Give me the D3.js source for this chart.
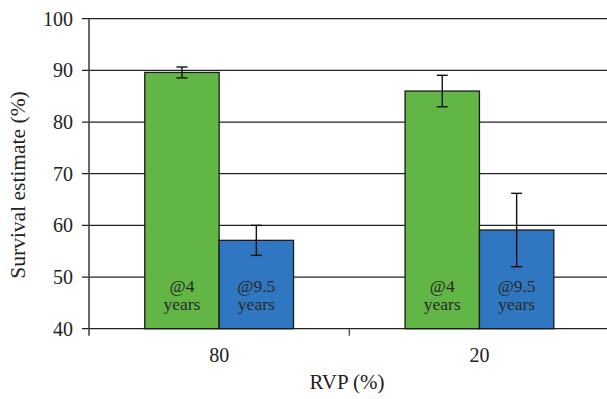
<!DOCTYPE html>
<html><head><meta charset="utf-8">
<script src="https://cdn.jsdelivr.net/npm/d3@7"></script>
<style>body{margin:0;background:#fff}svg{display:block}</style>
</head><body>
<script>
const categories = ["80", "20"];
const series = ["@4 years", "@9.5 years"];
const seriesLabels = [["@4", "years"], ["@9.5", "years"]];
const values4 = [89.6, 86.0];
const err4 = [1.05, 3.05];
const values95 = [57.1, 59.1];
const err95 = [2.9, 7.1];
const yTicks = [40, 50, 60, 70, 80, 90, 100];
const colors = ["#62b645", "#2f77c0"];

const W = 607, H = 399;
const m = {left: 89, right: -2.6, top: 18.7, bottom: 70};
const svg = d3.select("body").append("svg").attr("width", W).attr("height", H);
const font = "Liberation Serif";

const x0 = d3.scaleBand().domain(categories).range([m.left, W - m.right]).paddingInner(0).paddingOuter(0);
const x1 = d3.scaleBand().domain(series).range([0, x0.bandwidth()]).paddingInner(0).paddingOuter(0.75);
const y = d3.scaleLinear().domain([40, 100]).range([H - m.bottom - 0.3, m.top]);

svg.append("g").selectAll("line").data(yTicks).join("line")
  .attr("x1", m.left - 7).attr("x2", W).attr("y1", d => y(d)).attr("y2", d => y(d))
  .attr("stroke", "#222").attr("stroke-width", 1.2);

svg.append("g").selectAll("text").data(yTicks).join("text")
  .attr("x", 73).attr("y", d => y(d)).attr("dy", "0.35em")
  .attr("text-anchor", "end").style("font-family", font).attr("font-size", 20).attr("fill", "#222")
  .text(d => d);

const data = categories.map((c, i) => [
  {cat: c, s: series[0], v: values4[i], e: err4[i], lab: seriesLabels[0], col: colors[0]},
  {cat: c, s: series[1], v: values95[i], e: err95[i], lab: seriesLabels[1], col: colors[1]}
]).flat();

const g = svg.append("g");
g.selectAll("rect").data(data).join("rect")
  .attr("x", d => x0(d.cat) + x1(d.s)).attr("width", x1.bandwidth())
  .attr("y", d => y(d.v)).attr("height", d => y(40) - y(d.v))
  .attr("fill", d => d.col).attr("stroke", "#1a1a1a").attr("stroke-width", 1.3);

data.forEach(d => {
  const cx = x0(d.cat) + x1(d.s) + x1.bandwidth() / 2;
  [0, 1].forEach(k => g.append("text").attr("text-anchor", "middle").style("font-family", font)
    .attr("font-size", 17.5).attr("fill", "#2a2a2a").attr("x", cx).attr("y", 291.5 + 18.5 * k).text(d.lab[k]));
});

const eb = svg.append("g").attr("stroke", "#111").attr("stroke-width", 1.4);
data.forEach(d => {
  const cx = x0(d.cat) + x1(d.s) + x1.bandwidth() / 2;
  eb.append("line").attr("x1", cx).attr("x2", cx).attr("y1", y(d.v + d.e)).attr("y2", y(d.v - d.e));
  [d.v + d.e, d.v - d.e].forEach(v => eb.append("line").attr("x1", cx - 5.5).attr("x2", cx + 5.5).attr("y1", y(v)).attr("y2", y(v)));
});

svg.append("line").attr("x1", m.left).attr("x2", m.left).attr("y1", m.top).attr("y2", y(40) + 7)
  .attr("stroke", "#444").attr("stroke-width", 1.6);

const bounds = categories.map(c => x0(c)).slice(1);
svg.append("g").selectAll("line").data(bounds).join("line")
  .attr("x1", d => d).attr("x2", d => d).attr("y1", y(40)).attr("y2", y(40) + 7)
  .attr("stroke", "#444").attr("stroke-width", 1.3);

svg.append("g").selectAll("text").data(categories).join("text")
  .attr("x", c => x0(c) + x0.bandwidth() / 2).attr("y", 362)
  .attr("text-anchor", "middle").style("font-family", font).attr("font-size", 20).attr("fill", "#222")
  .text(c => c);

svg.append("text").attr("x", 347).attr("y", 389).attr("text-anchor", "middle")
  .style("font-family", font).attr("font-size", 21).attr("fill", "#222").text("RVP (%)");
svg.append("text").attr("transform", "translate(25,185) rotate(-90)").attr("text-anchor", "middle")
  .style("font-family", font).attr("font-size", 21.5).attr("fill", "#222").text("Survival estimate (%)");
</script>
</body></html>
